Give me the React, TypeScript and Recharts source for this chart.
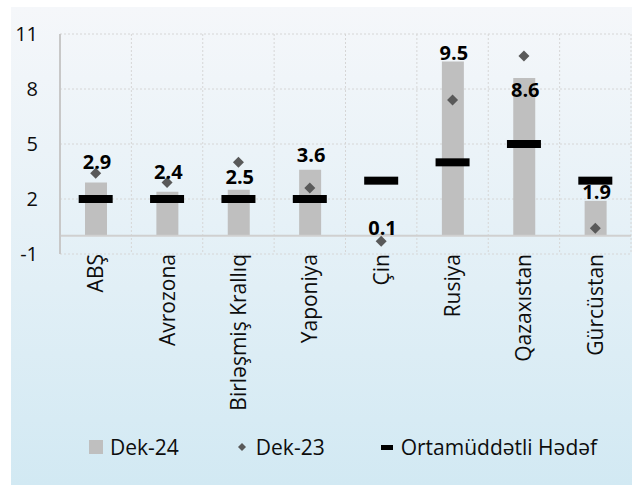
import React from 'react';
import {
  ComposedChart,
  Bar,
  Line,
  XAxis,
  YAxis,
  CartesianGrid,
  ReferenceLine,
  Legend,
  LabelList,
} from 'recharts';

const categories = ['ABŞ', 'Avrozona', 'Birləşmiş Krallıq', 'Yaponiya', 'Çin', 'Rusiya', 'Qazaxıstan', 'Gürcüstan'];
const dek24 = [2.9, 2.4, 2.5, 3.6, 0.1, 9.5, 8.6, 1.9];
const dek23 = [3.4, 2.9, 4.0, 2.6, -0.3, 7.4, 9.8, 0.4];
const target = [2, 2, 2, 2, 3, 4, 5, 3];
const yTicks = [-1, 2, 5, 8, 11];
const seriesNames = ['Dek-24', 'Dek-23', 'Ortamüddətli Hədəf'];

const data = categories.map((name, i) => ({
  name,
  dek24: dek24[i],
  dek23: dek23[i],
  target: target[i],
}));

const FONT = "'Open Sans', 'Noto Sans', sans-serif";
const BAR_COLOR = '#bfbfbf';
const DIAMOND_COLOR = '#595959';

// vertical label shifts (text centre relative to bar top), per category
const labelShift = [-21, -20, -13, -15, -6, -9, 11, -9];

const renderLabel = (props: any) => {
  const { x, y, width, value, index } = props;
  return (
    <text
      x={Number(x) + Number(width) / 2 + 1}
      y={Number(y) + labelShift[index]}
      textAnchor="middle"
      dominantBaseline="central"
      fontSize={20}
      fontWeight={700}
      fill="#000"
      fontFamily={FONT}
    >
      {value}
    </text>
  );
};

const DiamondDot = (props: any) => {
  const { cx, cy, index } = props;
  if (cx == null || cy == null) return <g key={`d-${index}`} />;
  const r = 5.5;
  return (
    <polygon
      key={`d-${index}`}
      points={`${cx},${cy - r} ${cx + r},${cy} ${cx},${cy + r} ${cx - r},${cy}`}
      fill={DIAMOND_COLOR}
    />
  );
};

const DashDot = (props: any) => {
  const { cx, cy, index } = props;
  if (cx == null || cy == null) return <g key={`t-${index}`} />;
  return <rect key={`t-${index}`} x={cx - 17} y={cy - 4} width={34} height={8} fill="#000" />;
};

const CategoryTick = (props: any) => {
  const { x, y, payload } = props;
  return (
    <text
      transform={`translate(${x + 7.5},${y}) rotate(-90)`}
      textAnchor="end"
      fontSize={21}
      fill="#0d0d0d"
      fontFamily={FONT}
    >
      {payload.value}
    </text>
  );
};

const LegendContent = () => (
  <div
    style={{
      display: 'flex',
      alignItems: 'center',
      height: 40,
      paddingLeft: 89,
      fontFamily: FONT,
      fontSize: 21,
      color: '#0d0d0d',
      whiteSpace: 'nowrap',
    }}
  >
    <span style={{ width: 14, height: 14, background: BAR_COLOR, marginRight: 7, display: 'inline-block' }} />
    <span>{seriesNames[0]}</span>
    <svg width={10} height={10} style={{ marginLeft: 58, marginRight: 9 }}>
      <polygon points="5,1 9,5 5,9 1,5" fill={DIAMOND_COLOR} />
    </svg>
    <span>{seriesNames[1]}</span>
    <span style={{ width: 12, height: 5, background: '#000', marginLeft: 56, marginRight: 8, display: 'inline-block' }} />
    <span>{seriesNames[2]}</span>
  </div>
);

export default function App() {
  return (
    <div style={{ position: 'absolute', left: 0, top: 0, width: 632, height: 485, fontFamily: FONT }}>
      <div
        style={{
          position: 'absolute',
          left: 11,
          top: 7,
          width: 621,
          height: 478,
          background: 'linear-gradient(to bottom, #f5f7fa 0%, #e6f1f7 45%, #d2e9f3 100%)',
        }}
      />
      <div style={{ position: 'absolute', left: 0, top: 0 }}>
        <ComposedChart
          width={632}
          height={485}
          data={data}
          margin={{ top: 34, right: 1, bottom: 18, left: 0 }}
          barCategoryGap={0}
        >
          <CartesianGrid
            stroke="#d6d6d6"
            strokeDasharray="2 2"
            verticalCoordinatesGenerator={({ offset }: any) =>
              categories.map((_, i) => offset.left + (i * offset.width) / categories.length).concat([offset.left + offset.width])
            }
          />
          <XAxis
            dataKey="name"
            type="category"
            axisLine={false}
            tickLine={false}
            tickSize={0}
            tickMargin={0}
            height={173}
            interval={0}
            tick={<CategoryTick />}
          />
          <YAxis
            type="number"
            domain={[-1, 11]}
            ticks={yTicks}
            interval={0}
            width={60}
            tickSize={0}
            tickMargin={22}
            tickLine={false}
            axisLine={{ stroke: '#c8c8c8', strokeWidth: 2 }}
            tick={{ fontSize: 20, fill: '#0d0d0d', fontFamily: FONT }}
          />
          <ReferenceLine y={0} stroke="#d0d0d0" strokeWidth={2} />
          <Bar dataKey="dek24" name={seriesNames[0]} fill={BAR_COLOR} barSize={22} isAnimationActive={false}>
            <LabelList dataKey="dek24" content={renderLabel} />
          </Bar>
          <Line
            dataKey="dek23"
            name={seriesNames[1]}
            stroke="none"
            dot={DiamondDot}
            activeDot={false}
            isAnimationActive={false}
          />
          <Line
            dataKey="target"
            name={seriesNames[2]}
            stroke="none"
            dot={DashDot}
            activeDot={false}
            isAnimationActive={false}
          />
          <Legend verticalAlign="bottom" height={40} content={<LegendContent />} wrapperStyle={{ left: 0, width: 632 }} />
        </ComposedChart>
      </div>
    </div>
  );
}
